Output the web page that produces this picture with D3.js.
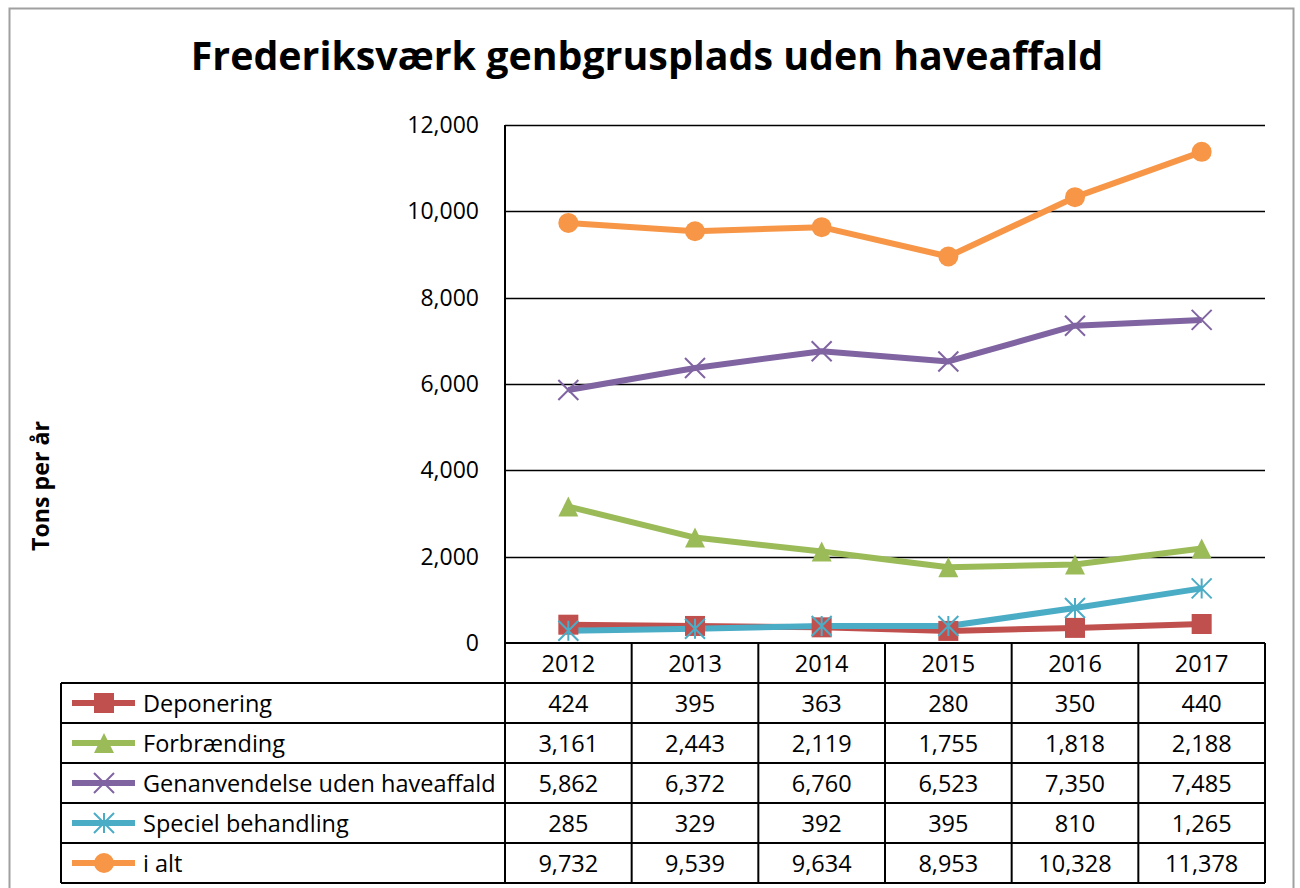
<!DOCTYPE html>
<html>
<head>
<meta charset="utf-8">
<script src="https://cdn.jsdelivr.net/npm/d3@7"></script>
<style>
  body { margin: 0; background: #fff; }
  svg { display: block; font-family: "Open Sans", sans-serif; }
</style>
</head>
<body>
<svg id="chart" width="1300" height="888"></svg>
<script>
// data
const years = ['2012', '2013', '2014', '2015', '2016', '2017'];
const seriesNames = ['Deponering', 'Forbrænding', 'Genanvendelse uden haveaffald', 'Speciel behandling', 'i alt'];
const deponering = [424, 395, 363, 280, 350, 440];
const forbraending = [3161, 2443, 2119, 1755, 1818, 2188];
const genanvendelse = [5862, 6372, 6760, 6523, 7350, 7485];
const speciel = [285, 329, 392, 395, 810, 1265];
const iAlt = [9732, 9539, 9634, 8953, 10328, 11378];
const yTicks = [0, 2000, 4000, 6000, 8000, 10000, 12000];

const colors = ['#C0504D', '#9BBB59', '#8064A2', '#4BACC6', '#F79646'];
const markers = ['square', 'triangle', 'cross', 'star', 'circle'];
const series = [deponering, forbraending, genanvendelse, speciel, iAlt].map((values, i) => ({
    name: seriesNames[i], values, color: colors[i], marker: markers[i]
}));

const svg = d3.select('#chart');
const plot = {left: 505, right: 1265, top: 125, bottom: 643};
const tableLeft = 61, rowH = 40, cellFont = '23.5px';

const x = d3.scaleBand().domain(years).range([plot.left, plot.right]);
const y = d3.scaleLinear().domain([0, 12000]).range([plot.bottom, plot.top]);
const fmt = d3.format(',');

// shrink/grow font so the text spans the width seen in the picture
function fitWidth(sel, width) {
    const fs = parseFloat(sel.style('font-size'));
    const w = sel.node().getComputedTextLength();
    sel.style('font-size', `${fs * width / w}px`);
}

// outer frame
svg.append('rect')
    .attr('x', 9.5).attr('y', 8.5).attr('width', 1284).attr('height', 900)
    .attr('fill', '#fff').attr('stroke', '#a0a0a0').attr('stroke-width', 2);

// title
const title = svg.append('text')
    .attr('x', 647).attr('y', 70)
    .attr('text-anchor', 'middle')
    .style('font-size', '40px').style('font-weight', 'bold')
    .text('Frederiksværk genbgrusplads uden haveaffald');
fitWidth(title, 913);

// y axis title
const yTitle = svg.append('text')
    .attr('transform', 'translate(49,486) rotate(-90)')
    .attr('text-anchor', 'middle')
    .style('font-size', '20px').style('font-weight', 'bold')
    .text('Tons per år');
fitWidth(yTitle, 130);

// gridlines + y labels
const yAxis = d3.axisLeft(y).tickValues(yTicks).tickSize(0).tickPadding(26).tickFormat(d => fmt(d));
const yg = svg.append('g').attr('transform', `translate(${plot.left},0)`).call(yAxis);
yg.select('.domain').remove();
yg.selectAll('text').style('font-size', '23px').style('font-family', '"Open Sans", sans-serif').attr('fill', '#000');

svg.append('g').selectAll('line')
    .data(yTicks.filter(d => d > 0))
    .join('line')
    .attr('x1', plot.left).attr('x2', plot.right)
    .attr('y1', d => Math.round(y(d)) + 0.5).attr('y2', d => Math.round(y(d)) + 0.5)
    .attr('stroke', '#000').attr('stroke-width', 1.5);

// table grid
const tableTop = plot.bottom;
const nRows = series.length;
const tableBottom = tableTop + rowH * (nRows + 1);
const grid = svg.append('g').attr('stroke', '#000').attr('stroke-width', 2);
grid.append('line').attr('x1', plot.left).attr('x2', plot.right).attr('y1', tableTop).attr('y2', tableTop);
d3.range(nRows + 1).forEach(r => {
    const yy = tableTop + rowH * (r + 1);
    grid.append('line').attr('x1', tableLeft).attr('x2', plot.right).attr('y1', yy).attr('y2', yy);
});
grid.append('line').attr('x1', tableLeft).attr('x2', tableLeft).attr('y1', tableTop + rowH).attr('y2', tableBottom);
grid.append('line').attr('x1', plot.left).attr('x2', plot.left).attr('y1', plot.top).attr('y2', tableBottom);
years.forEach(yr => {
    const xx = x(yr) + x.bandwidth();
    grid.append('line').attr('x1', xx).attr('x2', xx).attr('y1', tableTop).attr('y2', tableBottom);
});

// year headers
svg.append('g').selectAll('text')
    .data(years).join('text')
    .attr('x', d => x(d) + x.bandwidth() / 2)
    .attr('y', tableTop + rowH / 2 + 8.5)
    .attr('text-anchor', 'middle')
    .style('font-size', cellFont)
    .text(d => d);

// symbols
function drawMarker(g, type, color, size) {
    const h = size / 2;
    if (type === 'square') {
        g.append('rect').attr('x', -h).attr('y', -h).attr('width', size).attr('height', size).attr('fill', color);
    } else if (type === 'triangle') {
        g.append('path').attr('d', `M0,${-h}L${h},${h}L${-h},${h}Z`).attr('fill', color);
    } else if (type === 'circle') {
        g.append('circle').attr('r', h).attr('fill', color);
    } else if (type === 'cross') {
        g.append('path').attr('d', `M${-h},${-h}L${h},${h}M${h},${-h}L${-h},${h}`)
            .attr('stroke', color).attr('stroke-width', 2).attr('fill', 'none');
    } else if (type === 'star') {
        g.append('path').attr('d', `M${-h},${-h}L${h},${h}M${h},${-h}L${-h},${h}M0,${-h}L0,${h}`)
            .attr('stroke', color).attr('stroke-width', 2).attr('fill', 'none');
    }
}

// table rows: legend + values
series.forEach((s, i) => {
    const cy = tableTop + rowH * (i + 1) + rowH / 2;
    const lg = svg.append('g');
    lg.append('line').attr('x1', 72).attr('x2', 135).attr('y1', cy).attr('y2', cy)
        .attr('stroke', s.color).attr('stroke-width', 6);
    drawMarker(lg.append('g').attr('transform', `translate(104,${cy})`), s.marker, s.color, 20);
    lg.append('text').attr('x', 143).attr('y', cy + 8.5).style('font-size', cellFont).text(s.name);

    svg.append('g').selectAll('text')
        .data(s.values).join('text')
        .attr('x', (d, j) => x(years[j]) + x.bandwidth() / 2)
        .attr('y', cy + 8.5)
        .attr('text-anchor', 'middle')
        .style('font-size', cellFont)
        .text(d => fmt(d));
});

// lines
const line = d3.line().x((d, j) => x(years[j]) + x.bandwidth() / 2).y(d => y(d));
svg.append('g').selectAll('path')
    .data(series).join('path')
    .attr('d', d => line(d.values))
    .attr('fill', 'none')
    .attr('stroke', d => d.color)
    .attr('stroke-width', 6)
    .attr('stroke-linejoin', 'round');

// markers
series.forEach(s => {
    s.values.forEach((v, j) => {
        const g = svg.append('g').attr('transform', `translate(${x(years[j]) + x.bandwidth() / 2},${y(v)})`);
        drawMarker(g, s.marker, s.color, 20);
    });
});
</script>
</body>
</html>
